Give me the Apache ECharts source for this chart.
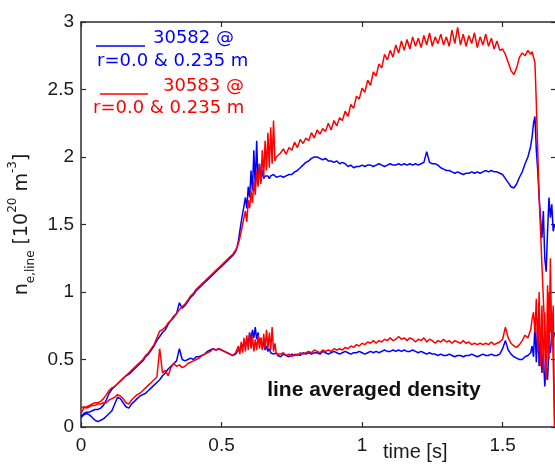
<!DOCTYPE html>
<html>
<head>
<meta charset="utf-8">
<script src="https://cdn.jsdelivr.net/npm/echarts@6/dist/echarts.min.js"></script>
<style>
  html, body { margin: 0; padding: 0; background: #fff; }
  #densityChart { width: 555px; height: 465px; }
</style>
</head>
<body>
<div id="densityChart"></div>
<script>
// time base [s], finer around the L-H jump and the disruption
const time = [
  0.00, 0.01, 0.02, 0.03, 0.04, 0.05, 0.06, 0.07, 0.08, 0.09,
  0.10, 0.11, 0.12, 0.13, 0.14, 0.15, 0.16, 0.17, 0.18, 0.19,
  0.20, 0.21, 0.22, 0.23, 0.24, 0.25, 0.26, 0.27, 0.28, 0.29,
  0.30, 0.31, 0.32, 0.33, 0.34, 0.35, 0.36, 0.37, 0.38, 0.39,
  0.40, 0.41, 0.42, 0.43, 0.44, 0.45, 0.46, 0.47, 0.48, 0.49,
  0.50, 0.51, 0.52, 0.53, 0.54, 0.55,
  0.555, 0.56, 0.565, 0.57, 0.575, 0.58, 0.585, 0.59, 0.595, 0.60,
  0.605, 0.61, 0.615, 0.62, 0.625, 0.63, 0.635, 0.64, 0.645, 0.65,
  0.655, 0.66, 0.665, 0.67, 0.675, 0.68, 0.685, 0.69, 0.695, 0.70,
  0.71, 0.72, 0.73, 0.74, 0.75, 0.76, 0.77, 0.78, 0.79,
  0.80, 0.81, 0.82, 0.83, 0.84, 0.85, 0.86, 0.87, 0.88, 0.89,
  0.90, 0.91, 0.92, 0.93, 0.94, 0.95, 0.96, 0.97, 0.98, 0.99,
  1.00, 1.01, 1.02, 1.03, 1.04, 1.05, 1.06, 1.07, 1.08, 1.09,
  1.10, 1.11, 1.12, 1.13, 1.14, 1.15, 1.16, 1.17, 1.18, 1.19,
  1.20, 1.21, 1.22, 1.23, 1.24, 1.25, 1.26, 1.27, 1.28, 1.29,
  1.30, 1.31, 1.32, 1.33, 1.34, 1.35, 1.36, 1.37, 1.38, 1.39,
  1.40, 1.41, 1.42, 1.43, 1.44, 1.45, 1.46, 1.47, 1.48, 1.49,
  1.50, 1.51, 1.52, 1.53, 1.54, 1.55, 1.56, 1.57, 1.58, 1.59,
  1.60,
  1.605, 1.61, 1.615, 1.62, 1.625, 1.63, 1.635, 1.64, 1.645, 1.65,
  1.655, 1.66, 1.665, 1.67, 1.675, 1.68, 1.685
];

// shot 30582, r = 0.0 m
const blueCore = [
  0.08, 0.10, 0.11, 0.11, 0.12, 0.13, 0.13, 0.14, 0.16, 0.20,
  0.25, 0.28, 0.30, 0.32, 0.34, 0.36, 0.38, 0.39, 0.41, 0.43,
  0.45, 0.47, 0.49, 0.52, 0.54, 0.57, 0.60, 0.64, 0.67, 0.70,
  0.72, 0.76, 0.79, 0.82, 0.84, 0.92, 0.88, 0.90, 0.93, 0.96,
  0.98, 1.01, 1.03, 1.05, 1.07, 1.09, 1.11, 1.13, 1.15, 1.17,
  1.19, 1.21, 1.23, 1.25, 1.27, 1.30,
  1.33, 1.38, 1.45, 1.52, 1.58, 1.64, 1.70, 1.62, 1.78, 1.70,
  1.90, 1.75, 2.05, 1.78, 2.12, 1.80, 1.95, 1.82, 1.90, 1.84,
  1.86, 1.85, 1.86, 1.84, 1.86, 1.85, 1.87, 1.86, 1.85, 1.86,
  1.86, 1.85, 1.86, 1.87, 1.87, 1.89, 1.90, 1.92, 1.94,
  1.96, 1.97, 1.99, 2.00, 2.00, 1.99, 1.98, 1.99, 1.97, 1.97,
  1.96, 1.97, 1.95, 1.96, 1.95, 1.93, 1.94, 1.92, 1.93, 1.93,
  1.94, 1.93, 1.94, 1.94, 1.93, 1.94, 1.95, 1.94, 1.93, 1.94,
  1.95, 1.94, 1.94, 1.95, 1.94, 1.95, 1.94, 1.95, 1.94, 1.95,
  1.94, 1.95, 1.96, 2.04, 1.96, 1.95, 1.95, 1.94, 1.92, 1.91,
  1.90, 1.90, 1.89, 1.88, 1.89, 1.88, 1.87, 1.88, 1.88, 1.89,
  1.88, 1.89, 1.88, 1.89, 1.90, 1.89, 1.90, 1.89, 1.89, 1.88,
  1.87, 1.84, 1.81, 1.78, 1.77, 1.80, 1.85, 1.89, 1.95, 2.00,
  2.08,
  2.15, 2.25, 2.30, 2.05, 1.90, 1.70, 1.55, 1.40, 1.60, 1.25,
  1.15, 1.45, 1.70, 1.55, 1.65, 1.45, 1.50
];

// shot 30582, r = 0.235 m
const blueEdge = [
  0.07, 0.09, 0.10, 0.09, 0.07, 0.05, 0.04, 0.05, 0.06, 0.08,
  0.10, 0.12, 0.17, 0.22, 0.21, 0.18, 0.15, 0.14, 0.17, 0.19,
  0.21, 0.23, 0.24, 0.25, 0.27, 0.29, 0.31, 0.33, 0.35, 0.38,
  0.40, 0.43, 0.45, 0.47, 0.49, 0.58, 0.50, 0.49, 0.50, 0.51,
  0.50, 0.52, 0.52, 0.53, 0.54, 0.56, 0.57, 0.58, 0.57, 0.58,
  0.57, 0.56, 0.55, 0.54, 0.53, 0.54,
  0.55, 0.57, 0.56, 0.59, 0.58, 0.62, 0.60, 0.65, 0.62, 0.70,
  0.64, 0.72, 0.66, 0.74, 0.65, 0.70, 0.62, 0.66, 0.59, 0.63,
  0.57, 0.60, 0.56, 0.58, 0.55, 0.56, 0.54, 0.53, 0.55, 0.53,
  0.52, 0.54, 0.53, 0.52, 0.54, 0.53, 0.54, 0.53, 0.55,
  0.54, 0.55, 0.54, 0.55, 0.55, 0.54, 0.56, 0.55, 0.54, 0.55,
  0.56, 0.55, 0.54, 0.55, 0.56, 0.55, 0.54, 0.55, 0.55, 0.56,
  0.55, 0.54, 0.55, 0.56, 0.55, 0.56, 0.55, 0.56, 0.57, 0.56,
  0.56, 0.57, 0.56, 0.57, 0.56, 0.57, 0.56, 0.56, 0.57, 0.56,
  0.55, 0.56, 0.55, 0.54, 0.55, 0.54, 0.54, 0.53, 0.54, 0.53,
  0.53, 0.54, 0.53, 0.52, 0.53, 0.53, 0.52, 0.53, 0.53, 0.54,
  0.53, 0.52, 0.53, 0.54, 0.53, 0.53, 0.54, 0.53, 0.53, 0.54,
  0.58, 0.64, 0.57, 0.54, 0.52, 0.51, 0.50, 0.50, 0.52, 0.53,
  0.55,
  0.60, 0.52, 0.75, 0.48, 0.80, 0.45, 0.70, 0.40, 0.55, 0.30,
  0.45, 0.35, 0.60, 0.55, 0.70, 0.65, 0.70
];

// shot 30583, r = 0.0 m
const redCore = [
  0.10, 0.14, 0.15, 0.16, 0.17, 0.18, 0.18, 0.19, 0.21, 0.24,
  0.27, 0.29, 0.30, 0.32, 0.34, 0.36, 0.38, 0.40, 0.42, 0.44,
  0.46, 0.48, 0.50, 0.53, 0.55, 0.58, 0.61, 0.66, 0.71, 0.72,
  0.74, 0.77, 0.79, 0.81, 0.84, 0.87, 0.89, 0.91, 0.94, 0.97,
  0.99, 1.02, 1.04, 1.06, 1.08, 1.10, 1.12, 1.14, 1.16, 1.18,
  1.20, 1.22, 1.24, 1.26, 1.28, 1.31,
  1.33, 1.36, 1.40, 1.45, 1.50, 1.55, 1.60, 1.52, 1.68, 1.62,
  1.75, 1.66, 1.82, 1.72, 1.90, 1.78, 1.95, 1.80, 2.05, 1.85,
  2.12, 1.90, 2.18, 1.92, 2.22, 1.95, 2.27, 1.97, 2.00, 2.01,
  2.03, 2.06, 2.02, 2.07, 2.05, 2.11, 2.07, 2.13, 2.10,
  2.14, 2.12, 2.18, 2.14, 2.20, 2.17, 2.21, 2.19, 2.25, 2.20,
  2.27, 2.23, 2.29, 2.27, 2.34, 2.30, 2.39, 2.36, 2.45, 2.43,
  2.51, 2.48, 2.57, 2.53, 2.63, 2.60, 2.69, 2.66, 2.76, 2.72,
  2.79, 2.74, 2.83, 2.77, 2.86, 2.79, 2.87, 2.80, 2.89, 2.82,
  2.88, 2.81, 2.90, 2.83, 2.92, 2.82, 2.89, 2.84, 2.91, 2.83,
  2.89, 2.82, 2.94, 2.84, 2.96, 2.83, 2.91, 2.82, 2.90, 2.84,
  2.92, 2.81, 2.89, 2.83, 2.91, 2.82, 2.88, 2.80, 2.86, 2.79,
  2.80, 2.76, 2.70, 2.64, 2.61, 2.66, 2.74, 2.77, 2.75, 2.79,
  2.76,
  2.78, 2.74, 2.70, 2.40, 2.05, 1.70, 1.45, 1.20, 0.95, 0.70,
  0.40, 0.65, 1.00, 0.70, 0.85, 0.50, 0.00
];

// shot 30583, r = 0.235 m
const redEdge = [
  0.14, 0.15, 0.14, 0.15, 0.16, 0.16, 0.17, 0.17, 0.18, 0.18,
  0.20, 0.21, 0.22, 0.24, 0.23, 0.21, 0.18, 0.17, 0.20, 0.22,
  0.24, 0.25, 0.27, 0.29, 0.31, 0.33, 0.35, 0.37, 0.58, 0.40,
  0.42, 0.38, 0.44, 0.47, 0.45, 0.46, 0.44, 0.45, 0.47, 0.48,
  0.49, 0.50, 0.51, 0.53, 0.54, 0.55, 0.56, 0.58, 0.57, 0.58,
  0.57, 0.56, 0.55, 0.54, 0.53, 0.55,
  0.56, 0.60, 0.54, 0.63, 0.55, 0.66, 0.56, 0.68, 0.57, 0.70,
  0.58, 0.67, 0.56, 0.65, 0.57, 0.68, 0.58, 0.66, 0.57, 0.69,
  0.58, 0.72, 0.58, 0.70, 0.57, 0.74, 0.56, 0.62, 0.54, 0.55,
  0.54, 0.55, 0.53, 0.54, 0.52, 0.54, 0.53, 0.55, 0.54,
  0.55, 0.56, 0.55, 0.57, 0.56, 0.55, 0.57, 0.56, 0.57, 0.56,
  0.58, 0.57, 0.58, 0.57, 0.59, 0.58, 0.60, 0.59, 0.61, 0.60,
  0.62, 0.61, 0.63, 0.62, 0.64, 0.62, 0.64, 0.63, 0.65, 0.64,
  0.66, 0.64, 0.65, 0.67, 0.65, 0.66, 0.64, 0.66, 0.65, 0.63,
  0.65, 0.64, 0.66, 0.63, 0.65, 0.64, 0.62, 0.64, 0.63, 0.65,
  0.63, 0.64, 0.62, 0.64, 0.63, 0.62, 0.64, 0.62, 0.63, 0.61,
  0.62, 0.61, 0.62, 0.61, 0.62, 0.61, 0.63, 0.61, 0.62, 0.63,
  0.65, 0.74, 0.66, 0.62, 0.60, 0.59, 0.61, 0.64, 0.68, 0.66,
  0.72,
  0.80, 0.85, 0.70, 0.95, 0.55, 1.00, 0.45, 0.90, 0.40, 0.85,
  0.35, 1.05, 0.50, 1.25, 0.60, 0.90, 0.00
];

const xTicks = [0, 0.5, 1, 1.5];
const legendShots = ['30582 @', '30583 @'];
const legendChords = 'r=0.0 & 0.235 m';

const BLUE = '#0000ff';
const RED = '#ff0000';
const AXIS = '#2b2b2b';
const LABEL_FONT = '"Liberation Sans", Arial, sans-serif';
const LEGEND_FONT = '"DejaVu Sans", sans-serif';

function pairs(values) {
  return time.map((t, i) => [t, values[i]]);
}

function lineSeries(name, values, color) {
  return {
    name,
    type: 'line',
    data: pairs(values),
    showSymbol: false,
    symbol: 'none',
    lineStyle: { color, width: 1.5 },
    emphasis: { disabled: true },
    z: color === RED ? 3 : 2,
  };
}

// box axes with inward ticks on all four sides
function boxAxis(dir, position, showLabel) {
  const isX = dir === 'x';
  return {
    type: 'value',
    position,
    min: 0,
    max: isX ? 1.69 : 3,
    interval: 0.5,
    axisLine: { show: true, onZero: false, lineStyle: { color: AXIS, width: 1.5 } },
    axisTick: { show: true, inside: true, length: 5, lineStyle: { color: AXIS, width: 1.2 } },
    splitLine: { show: false },
    axisLabel: {
      show: showLabel,
      margin: isX ? 9 : 7,
      color: '#1a1a1a',
      fontSize: 19,
      fontFamily: LABEL_FONT,
      showMaxLabel: !isX,
      formatter: v => (isX && xTicks.indexOf(v) < 0 ? '' : String(v)),
    },
  };
}

const yLeft = boxAxis('y', 'left', true);
yLeft.name = '{b|n}{sub|e,line}{b| [10}{sup|20}{b| m}{sup|-3}{b|]}';
yLeft.nameLocation = 'middle';
yLeft.nameRotate = 90;
yLeft.nameGap = 44;
yLeft.nameTextStyle = {
  color: '#1a1a1a',
  rich: {
    b: { fontSize: 19, fontFamily: LEGEND_FONT, lineHeight: 30, color: '#1a1a1a' },
    sub: { fontSize: 12, fontFamily: LEGEND_FONT, lineHeight: 12, verticalAlign: 'bottom', color: '#1a1a1a' },
    sup: { fontSize: 12, fontFamily: LEGEND_FONT, lineHeight: 12, verticalAlign: 'top', color: '#1a1a1a' },
  },
};

function legendText(x, y, text, color) {
  return {
    type: 'text',
    x,
    y,
    silent: true,
    style: { text, fill: color, font: '18px ' + LEGEND_FONT, align: 'left', verticalAlign: 'middle' },
  };
}

const option = {
  backgroundColor: '#fff',
  animation: false,
  grid: { left: 81, top: 22, width: 475, height: 405, outerBoundsMode: 'none', containLabel: false },
  xAxis: [boxAxis('x', 'bottom', true), boxAxis('x', 'top', false)],
  yAxis: [yLeft, boxAxis('y', 'right', false)],
  series: [
    lineSeries('30582 r=0.0', blueCore, BLUE),
    lineSeries('30582 r=0.235', blueEdge, BLUE),
    lineSeries('30583 r=0.0', redCore, RED),
    lineSeries('30583 r=0.235', redEdge, RED),
  ],
  graphic: [
    { type: 'line', silent: true, shape: { x1: 96, y1: 46, x2: 145, y2: 46 }, style: { stroke: BLUE, lineWidth: 1.5 } },
    legendText(153, 38, legendShots[0], BLUE),
    legendText(97, 61, legendChords, BLUE),
    { type: 'line', silent: true, shape: { x1: 100, y1: 94, x2: 148, y2: 94 }, style: { stroke: RED, lineWidth: 1.5 } },
    legendText(163, 86, legendShots[1], RED),
    legendText(93, 108, legendChords, RED),
    {
      type: 'text',
      x: 374,
      y: 390,
      silent: true,
      style: { text: 'line averaged density', fill: '#111', font: 'bold 21px ' + LABEL_FONT, align: 'center', verticalAlign: 'middle' },
    },
    {
      type: 'text',
      x: 383,
      y: 452,
      silent: true,
      style: { text: 'time [s]', fill: '#1a1a1a', font: '20px ' + LABEL_FONT, align: 'left', verticalAlign: 'middle' },
    },
  ],
};

const densityChart = echarts.init(document.getElementById('densityChart'), null, { renderer: 'canvas' });
densityChart.setOption(option);
</script>
</body>
</html>
